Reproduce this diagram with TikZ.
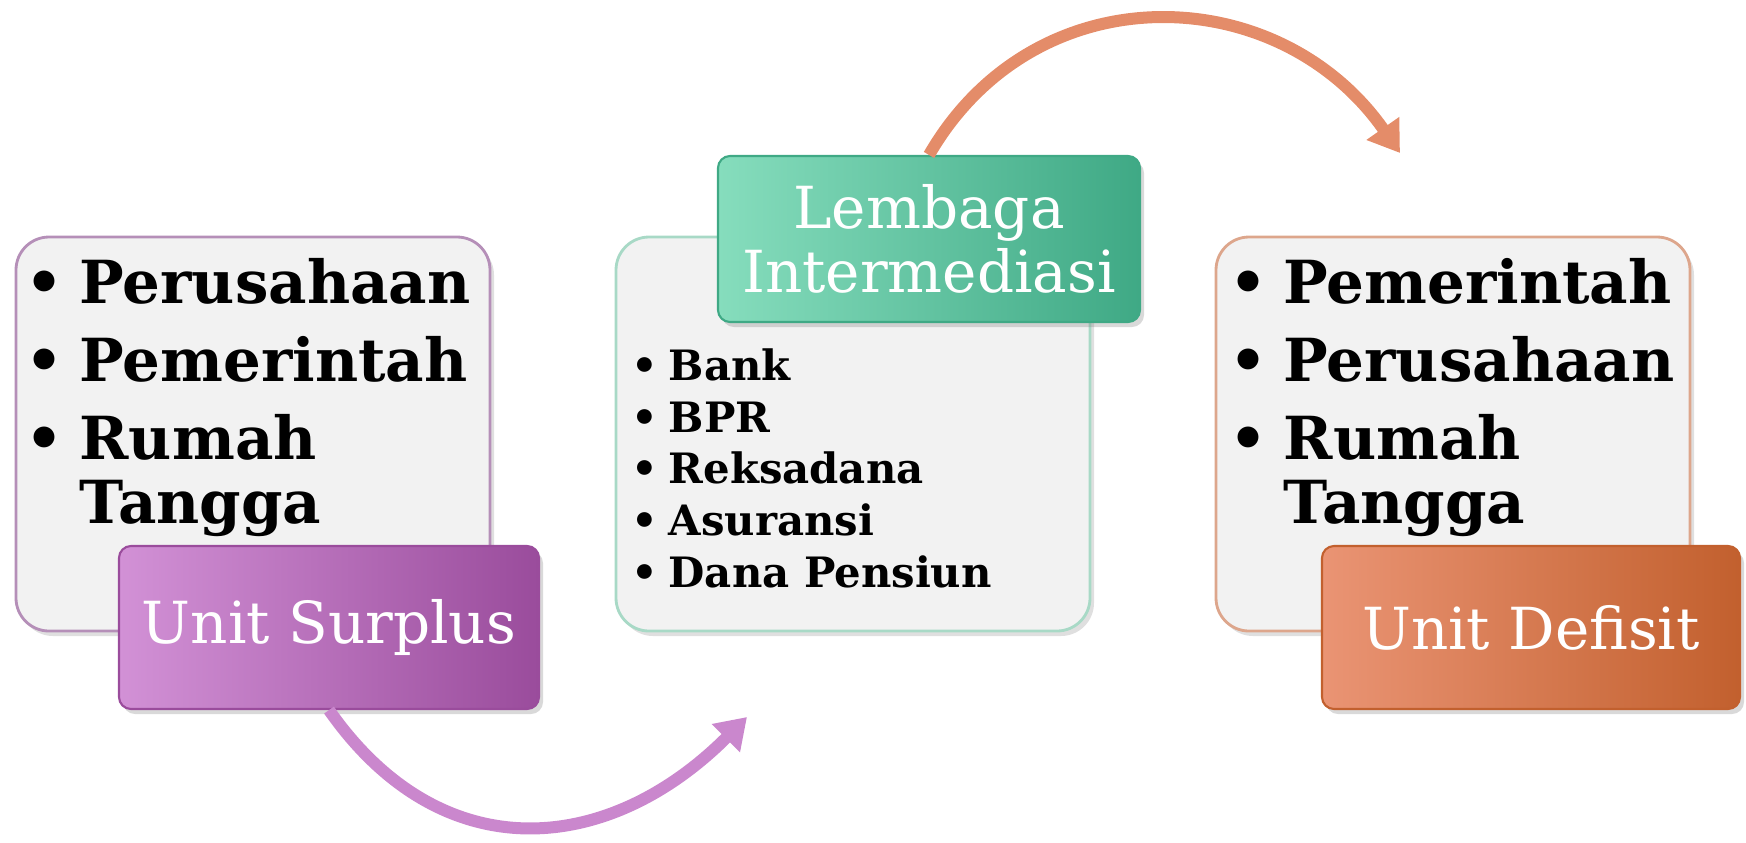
\documentclass[tikz,border=0pt]{standalone}
\usepackage{fontspec}
\setmainfont{DejaVu Serif}
\usetikzlibrary{arrows.meta,shadows}

\definecolor{boxgrey}{HTML}{F2F2F2}
\definecolor{surplusdark}{HTML}{9A4C9C}
\definecolor{surpluslight}{HTML}{D291D6}
\definecolor{surplusline}{HTML}{B58FB8}
\definecolor{lembagadark}{HTML}{3FA985}
\definecolor{lembagalight}{HTML}{86DDBD}
\definecolor{lembagaline}{HTML}{A8D9C6}
\definecolor{defisitdark}{HTML}{C2602E}
\definecolor{defisitlight}{HTML}{EA9474}
\definecolor{defisitline}{HTML}{DDA68C}

% bullet item with a fixed hanging indent
\newcommand{\butir}[2]{\makebox[#1][l]{\textbullet}#2}

\tikzset{
	listbox/.style={draw=#1, line width=0.8pt, fill=boxgrey, rounded corners=0.33cm,
		minimum width=4.74cm, minimum height=3.94cm,
		drop shadow={opacity=0.25, shadow xshift=0.04cm, shadow yshift=-0.05cm}},
	tagbox/.style 2 args={left color=#1, right color=#2, draw=#2, line width=0.6pt,
		rounded corners=0.12cm, minimum width=4.2cm, minimum height=1.63cm,
		text=white, align=center, font=\fontsize{16.5}{18.2}\selectfont,
		drop shadow={opacity=0.3, shadow xshift=0.04cm, shadow yshift=-0.05cm}},
	biglist/.style={align=left, inner sep=0pt, font=\fontsize{16.9}{18.2}\selectfont\bfseries},
	smalllist/.style={align=left, inner sep=0pt, font=\fontsize{11.9}{14.7}\selectfont\bfseries},
	flow/.style={line width=0.12cm, -{Triangle[length=0.3cm, width=0.38cm]}}
}

\begin{document}
\begin{tikzpicture}
	\useasboundingbox (0,0) rectangle (17.46,-8.42);

	% Boxes
	\node[listbox=surplusline] (surplusbox) at (2.53,-4.34) {};
	\node[listbox=lembagaline] (lembagabox) at (8.53,-4.34) {};
	\node[listbox=defisitline] (defisitbox) at (14.53,-4.34) {};

	% Lists (base = last line)
	\node[biglist, anchor=base west] (surpluslist) at (0.25,-5.23)
		{\butir{0.54cm}{Perusahaan}\\[4pt] \butir{0.54cm}{Pemerintah}\\[4pt] \butir{0.54cm}{Rumah}\\ \hspace*{0.54cm}Tangga};
	\node[smalllist, anchor=base west] (lembagalist) at (6.31,-5.87)
		{\butir{0.37cm}{Bank}\\ \butir{0.37cm}{BPR}\\ \butir{0.37cm}{Reksadana}\\ \butir{0.37cm}{Asuransi}\\ \butir{0.37cm}{Dana Pensiun}};
	\node[biglist, anchor=base west] (defisitlist) at (12.29,-5.23)
		{\butir{0.54cm}{Pemerintah}\\[4pt] \butir{0.54cm}{Perusahaan}\\[4pt] \butir{0.54cm}{Rumah}\\ \hspace*{0.54cm}Tangga};

	% Tags
	\node[tagbox={surpluslight}{surplusdark}] (surplustag) at (3.29,-6.275) {Unit Surplus};
	\node[tagbox={lembagalight}{lembagadark}, minimum width=4.22cm, minimum height=1.66cm] (lembagatag) at (9.29,-2.39) {Lembaga\\Intermediasi};
	\node[tagbox={defisitlight}{defisitdark}, minimum width=4.18cm] (defisittag) at (15.31,-6.275) {Unit Defisit};

	% Arrows
	\coordinate (tomid) at (7.47,-7.17);
	\coordinate (todefisit) at (14.00,-1.53);
	\draw[flow, color=surpluslight!85!surplusdark] (surplustag.south) to[out=-55, in=-135, looseness=1.2] (tomid);
	\draw[flow, color=defisitlight!85!defisitdark] (lembagatag.north) to[out=60, in=125, looseness=1.15] (todefisit);
\end{tikzpicture}
\end{document}
